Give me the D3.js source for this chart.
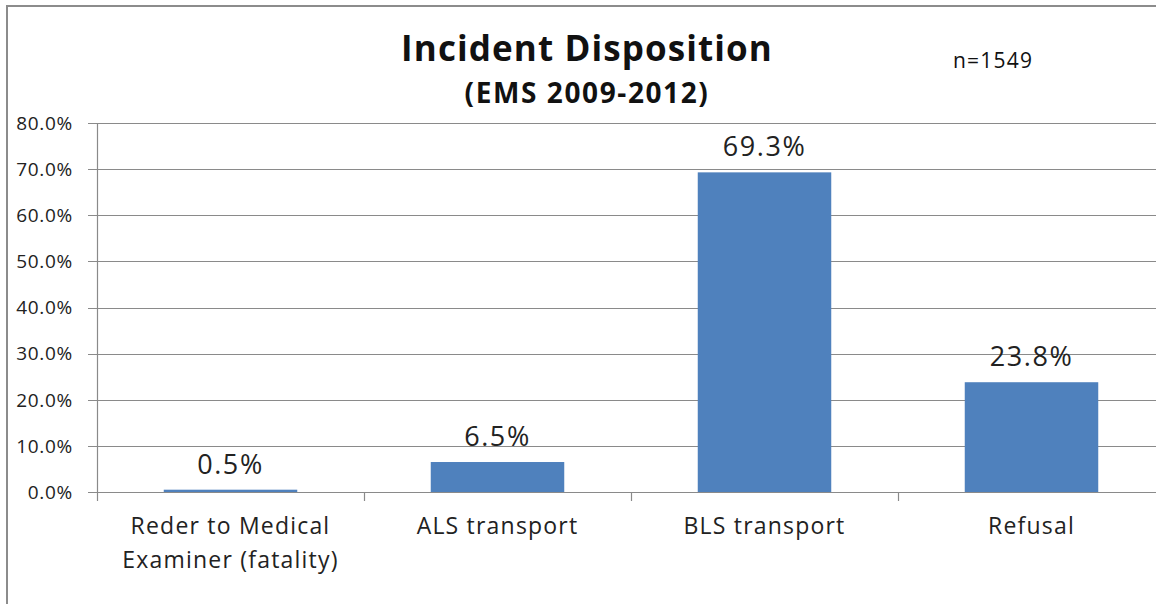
<!DOCTYPE html>
<html>
<head>
<meta charset="utf-8">
<script src="https://cdn.jsdelivr.net/npm/d3@7"></script>
<style>
  body { margin: 0; background: #fff; }
  svg { display: block; font-family: "Open Sans", "DejaVu Sans", sans-serif; }
</style>
</head>
<body>
<svg id="chart" width="1156" height="604"></svg>
<script>
// chart data
var categories = ["Reder to Medical\nExaminer (fatality)", "ALS transport", "BLS transport", "Refusal"];
var values = [0.5, 6.5, 69.3, 23.8];
var yTicks = [0, 10, 20, 30, 40, 50, 60, 70, 80];

var svg = d3.select("#chart");
var plotLeft = 97, plotRight = 1165, plotTop = 123, plotBottom = 492;

// outer frame (right and bottom edges fall outside the picture)
svg.append("rect")
  .attr("x", 7).attr("y", 6)
  .attr("width", 1170).attr("height", 620)
  .attr("fill", "none").attr("stroke", "#8c8c8c").attr("stroke-width", 2);

var x = d3.scaleBand().domain(categories).range([plotLeft, plotRight]).paddingInner(0.5).paddingOuter(0.25);
var y = d3.scaleLinear().domain([0, 80]).range([plotBottom, plotTop]);

// gridlines
svg.append("g")
  .selectAll("line")
  .data(yTicks)
  .enter().append("line")
  .attr("x1", plotLeft - 9).attr("x2", plotRight)
  .attr("y1", function (d) { return Math.round(y(d)) + 0.5; })
  .attr("y2", function (d) { return Math.round(y(d)) + 0.5; })
  .attr("stroke", "#8a8a8a").attr("stroke-width", 1.2);

// y axis line
svg.append("line")
  .attr("x1", plotLeft + 0.5).attr("x2", plotLeft + 0.5)
  .attr("y1", plotTop).attr("y2", plotBottom)
  .attr("stroke", "#8a8a8a").attr("stroke-width", 1.2);

// y tick labels
svg.append("g")
  .selectAll("text")
  .data(yTicks)
  .enter().append("text")
  .attr("x", 73)
  .attr("y", function (d) { return y(d); })
  .attr("dy", "0.36em")
  .attr("text-anchor", "end")
  .attr("font-size", 19)
  .attr("letter-spacing", 0.7)
  .attr("fill", "#222")
  .text(function (d) { return d.toFixed(1) + "%"; });

// category tick marks between bands
var step = x.step();
svg.append("g")
  .selectAll("line")
  .data(d3.range(categories.length + 1))
  .enter().append("line")
  .attr("x1", function (i) { return Math.round(plotLeft + i * step) + 0.5; })
  .attr("x2", function (i) { return Math.round(plotLeft + i * step) + 0.5; })
  .attr("y1", plotBottom).attr("y2", plotBottom + 9)
  .attr("stroke", "#8a8a8a").attr("stroke-width", 1.2);

// bars
svg.append("g")
  .selectAll("rect")
  .data(values)
  .enter().append("rect")
  .attr("x", function (d, i) { return x(categories[i]); })
  .attr("width", x.bandwidth())
  .attr("y", function (d) { return y(d); })
  .attr("height", function (d) { return plotBottom - y(d); })
  .attr("fill", "#4f81bd");

// value labels
svg.append("g")
  .selectAll("text")
  .data(values)
  .enter().append("text")
  .attr("x", function (d, i) { return x(categories[i]) + x.bandwidth() / 2; })
  .attr("y", function (d) { return y(d) - 16; })
  .attr("text-anchor", "middle")
  .attr("font-size", 27)
  .attr("letter-spacing", 1.6)
  .attr("fill", "#222")
  .text(function (d) { return d.toFixed(1) + "%"; });

// category labels
var catText = svg.append("g")
  .selectAll("text")
  .data(categories)
  .enter().append("text")
  .attr("x", function (d) { return x(d) + x.bandwidth() / 2; })
  .attr("y", 534)
  .attr("text-anchor", "middle")
  .attr("font-size", 23)
  .attr("letter-spacing", 1.2)
  .attr("fill", "#222");

catText.each(function (d) {
  var t = d3.select(this);
  d.split("\n").forEach(function (line, i) {
    t.append("tspan")
      .attr("x", t.attr("x"))
      .attr("dy", i === 0 ? 0 : 34)
      .text(line);
  });
});

// titles
svg.append("text")
  .attr("x", 587).attr("y", 61)
  .attr("text-anchor", "middle")
  .attr("font-size", 35).attr("font-weight", "bold")
  .attr("letter-spacing", 1.1)
  .attr("fill", "#111")
  .text("Incident Disposition");

svg.append("text")
  .attr("x", 587).attr("y", 103)
  .attr("text-anchor", "middle")
  .attr("font-size", 28).attr("font-weight", "bold")
  .attr("letter-spacing", 1.6)
  .attr("fill", "#111")
  .text("(EMS 2009-2012)");

svg.append("text")
  .attr("x", 953).attr("y", 68)
  .attr("font-size", 21)
  .attr("letter-spacing", 1.2)
  .attr("fill", "#111")
  .text("n=1549");
</script>
</body>
</html>
